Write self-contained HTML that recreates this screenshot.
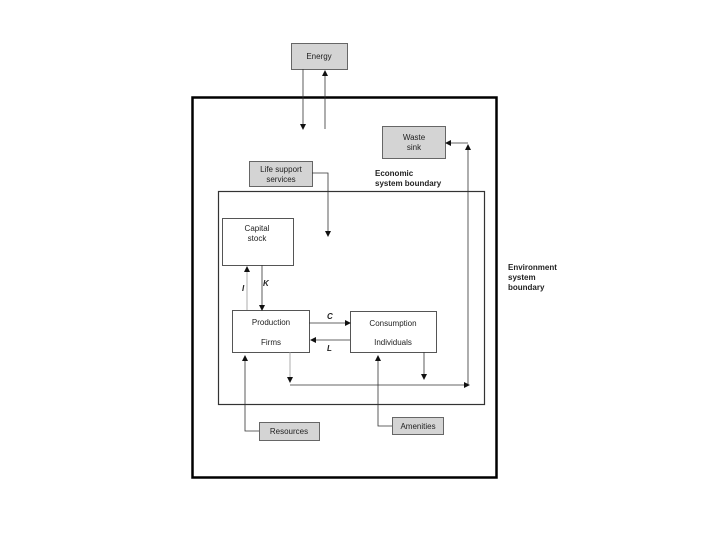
<!DOCTYPE html>
<html><head><style>
body{margin:0;background:#fff;}
svg text{font-family:"Liberation Sans",sans-serif;font-size:8px;fill:#222;}
</style></head><body>
<svg width="720" height="540" viewBox="0 0 720 540" xmlns="http://www.w3.org/2000/svg">
<defs>
<marker id="a" markerWidth="6" markerHeight="6" refX="5" refY="3" orient="auto" markerUnits="userSpaceOnUse"><path d="M0,0 L6,3 L0,6 Z" fill="#111"/></marker>
</defs>
<rect x="192.5" y="97.5" width="304" height="380" fill="none" stroke="#000" stroke-width="2.5"/>
<rect x="218.5" y="191.5" width="266" height="213" fill="none" stroke="#333" stroke-width="1.2"/>
<g fill="#d4d4d4" stroke="#666" stroke-width="1">
<rect x="291.5" y="43.5" width="56" height="26"/>
<rect x="382.5" y="126.5" width="63" height="32"/>
<rect x="249.5" y="161.5" width="63" height="25"/>
<rect x="259.5" y="422.5" width="60" height="18"/>
<rect x="392.5" y="417.5" width="51" height="17"/>
</g>
<g fill="#fff" stroke="#555" stroke-width="1">
<rect x="222.5" y="218.5" width="71" height="47"/>
<rect x="232.5" y="310.5" width="77" height="42"/>
<rect x="350.5" y="311.5" width="86" height="41"/>
</g>
<g stroke="#333" stroke-width="0.8" fill="none">
<line x1="303" y1="69" x2="303" y2="129" marker-end="url(#a)"/>
<line x1="325" y1="129" x2="325" y2="71" marker-end="url(#a)"/>
<polyline points="312,173 328,173 328,236" marker-end="url(#a)"/>
<line x1="247" y1="310" x2="247" y2="267" marker-end="url(#a)" stroke="#999"/>
<line x1="262" y1="265" x2="262" y2="310" marker-end="url(#a)"/>
<line x1="309" y1="323" x2="350" y2="323" marker-end="url(#a)"/>
<line x1="350" y1="340" x2="311" y2="340" marker-end="url(#a)"/>
<line x1="424" y1="352" x2="424" y2="379" marker-end="url(#a)"/>
<line x1="290" y1="352" x2="290" y2="382" marker-end="url(#a)" stroke="#999"/>
<line x1="290" y1="385" x2="469" y2="385" marker-end="url(#a)"/>
<line x1="468" y1="384" x2="468" y2="145" marker-end="url(#a)"/>
<line x1="468" y1="143" x2="446" y2="143" marker-end="url(#a)"/>
<polyline points="259,431 245,431 245,356" marker-end="url(#a)"/>
<polyline points="392,426 378,426 378,356" marker-end="url(#a)"/>
</g>
<text x="319" y="59" text-anchor="middle">Energy</text>
<text x="414" y="140" text-anchor="middle">Waste</text>
<text x="414" y="150" text-anchor="middle">sink</text>
<text x="281" y="172" text-anchor="middle">Life support</text>
<text x="281" y="182" text-anchor="middle">services</text>
<text x="375" y="176" style="font-weight:bold">Economic</text>
<text x="375" y="186" style="font-weight:bold">system boundary</text>
<text x="257" y="231" text-anchor="middle">Capital</text>
<text x="257" y="241" text-anchor="middle">stock</text>
<text x="242" y="291" style="font-weight:bold;font-style:italic">I</text>
<text x="263" y="286" style="font-weight:bold;font-style:italic">K</text>
<text x="271" y="325" text-anchor="middle">Production</text>
<text x="271" y="345" text-anchor="middle">Firms</text>
<text x="393" y="326" text-anchor="middle">Consumption</text>
<text x="393" y="345" text-anchor="middle">Individuals</text>
<text x="327" y="319" style="font-weight:bold;font-style:italic">C</text>
<text x="327" y="351" style="font-weight:bold;font-style:italic">L</text>
<text x="289" y="434" text-anchor="middle">Resources</text>
<text x="418" y="429" text-anchor="middle">Amenities</text>
<text x="508" y="270" style="font-weight:bold">Environment</text>
<text x="508" y="280" style="font-weight:bold">system</text>
<text x="508" y="290" style="font-weight:bold">boundary</text>
</svg>
</body></html>
